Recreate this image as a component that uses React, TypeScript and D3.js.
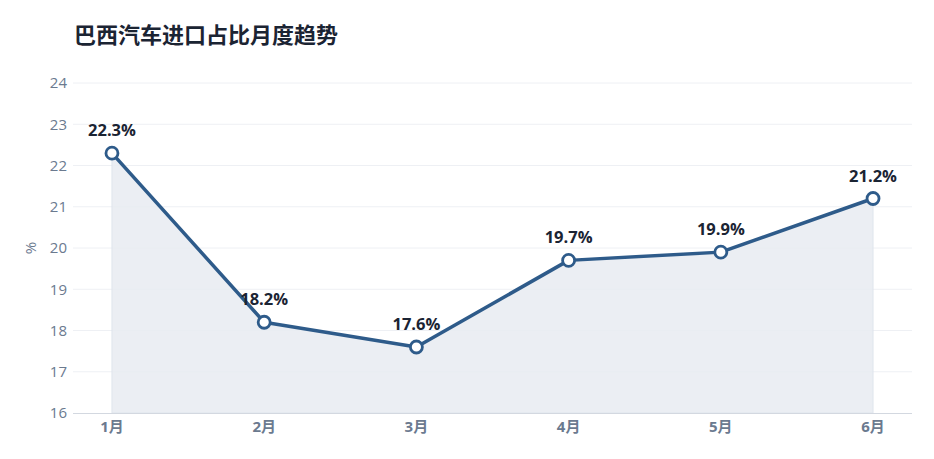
import { useRef, useEffect } from 'react';
import * as d3 from 'd3';

const months = ['1月', '2月', '3月', '4月', '5月', '6月'];
const shares = [22.3, 18.2, 17.6, 19.7, 19.9, 21.2];
const yTicks = [16, 17, 18, 19, 20, 21, 22, 23, 24];

const W = 934;
const H = 459;
const FONT = '"Open Sans", "Noto Sans", "Noto Sans CJK SC", sans-serif';
const LINE = '#2e5b8a';

export default function App() {
  const svgRef = useRef<SVGSVGElement>(null);

  useEffect(() => {
    if (!svgRef.current) return;
    const svg = d3.select(svgRef.current);
    svg.selectAll('*').remove();

    const left = 73, right = 912, top = 83, bottom = 413;

    const x = d3.scalePoint<string>().domain(months).range([left, right]).padding(0.256);
    const y = d3.scaleLinear().domain([16, 24]).range([bottom, top]);

    // Title
    svg.append('text')
      .attr('x', 74).attr('y', 43)
      .attr('font-family', FONT)
      .attr('font-size', 22).attr('font-weight', 700)
      .attr('fill', '#1b2433')
      .text('巴西汽车进口占比月度趋势');

    // Grid
    svg.append('g').selectAll('line')
      .data(yTicks.slice(1))
      .join('line')
      .attr('x1', left).attr('x2', right)
      .attr('y1', (d) => y(d)).attr('y2', (d) => y(d))
      .attr('stroke', '#eef0f4').attr('stroke-width', 1);

    // Y tick labels
    svg.append('g').selectAll('text')
      .data(yTicks)
      .join('text')
      .attr('x', 67).attr('y', (d) => y(d))
      .attr('dy', '0.35em')
      .attr('text-anchor', 'end')
      .attr('font-family', FONT).attr('font-size', 15)
      .attr('fill', '#6b7a8f')
      .text((d) => d);

    // Y axis title
    svg.append('text')
      .attr('transform', `translate(31, ${(top + bottom) / 2}) rotate(-90)`)
      .attr('text-anchor', 'middle').attr('dy', '0.35em')
      .attr('font-family', FONT).attr('font-size', 15)
      .attr('fill', '#6b7a8f')
      .text('%');

    // Area
    const area = d3.area<number>()
      .x((_, i) => x(months[i]) as number)
      .y0(bottom)
      .y1((d) => y(d));
    svg.append('path')
      .attr('d', area(shares) as string)
      .attr('fill', '#e9edf2').attr('opacity', 0.9)
      .attr('stroke', '#dde3ec').attr('stroke-width', 1);

    // Bottom axis line
    svg.append('line')
      .attr('x1', left).attr('x2', right)
      .attr('y1', bottom + 0.5).attr('y2', bottom + 0.5)
      .attr('stroke', '#d3d8e0').attr('stroke-width', 1);

    // X labels
    svg.append('g').selectAll('text')
      .data(months)
      .join('text')
      .attr('x', (d) => x(d) as number).attr('y', 432)
      .attr('text-anchor', 'middle')
      .attr('font-family', FONT).attr('font-size', 15).attr('font-weight', 700)
      .attr('fill', '#6b7a8f')
      .text((d) => d);

    // Line
    const line = d3.line<number>()
      .x((_, i) => x(months[i]) as number)
      .y((d) => y(d));
    svg.append('path')
      .attr('d', line(shares) as string)
      .attr('fill', 'none')
      .attr('stroke', LINE).attr('stroke-width', 3.5)
      .attr('stroke-linejoin', 'round');

    // Markers
    svg.append('g').selectAll('circle')
      .data(shares)
      .join('circle')
      .attr('cx', (_, i) => x(months[i]) as number)
      .attr('cy', (d) => y(d))
      .attr('r', 6)
      .attr('fill', '#fff')
      .attr('stroke', LINE).attr('stroke-width', 2.8);

    // Data labels
    svg.append('g').selectAll('text')
      .data(shares)
      .join('text')
      .attr('x', (_, i) => x(months[i]) as number)
      .attr('y', (d) => y(d) - 17)
      .attr('text-anchor', 'middle')
      .attr('font-family', FONT).attr('font-size', 16.5).attr('font-weight', 700)
      .attr('fill', '#1b2433')
      .text((d) => `${d.toFixed(1)}%`);
  }, []);

  return (
    <svg
      ref={svgRef}
      width={W}
      height={H}
      style={{ position: 'absolute', left: 0, top: 0, background: '#fff' }}
    />
  );
}
